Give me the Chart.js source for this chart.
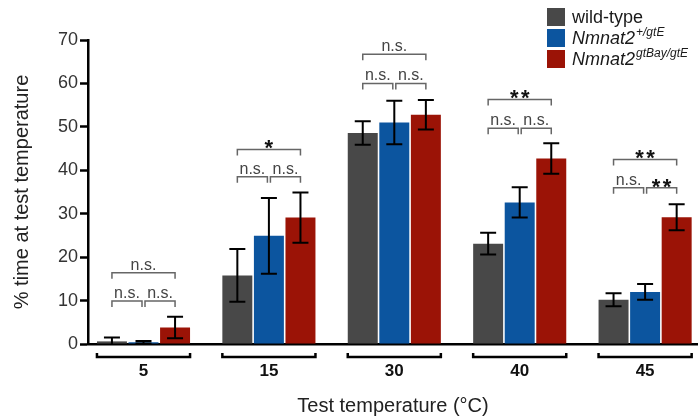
<!DOCTYPE html>
<html><head><meta charset="utf-8">
<script src="https://cdn.jsdelivr.net/npm/chart.js@4/dist/chart.umd.min.js"></script>
<style>html,body{margin:0;padding:0;background:#fff;}</style>
</head><body>
<canvas id="c" width="698" height="419"></canvas>
<script>
// ---- data ----
const categories = ['5', '15', '30', '40', '45'];
const seriesNames = ['wild-type', 'Nmnat2', 'Nmnat2'];
const seriesSup = ['', '+/gtE', 'gtBay/gtE'];
const wildType = [0.6, 15.8, 48.6, 23.1, 10.2];
const wildTypeErr = [0.9, 6.1, 2.7, 2.5, 1.5];
const hetero = [0.4, 24.9, 51.0, 32.6, 12.0];
const heteroErr = [0.3, 8.7, 5.0, 3.5, 1.8];
const homo = [3.8, 29.1, 52.8, 42.7, 29.2];
const homoErr = [2.5, 5.8, 3.4, 3.5, 3.0];
const sigLowY = [9.9, 38.5, 60.0, 49.7, 36.0];
const sigHighY = [16.4, 44.8, 66.7, 56.3, 42.5];
const sigLeft = ['n.s.', 'n.s.', 'n.s.', 'n.s.', 'n.s.'];
const sigRight = ['n.s.', 'n.s.', 'n.s.', 'n.s.', '**'];
const sigTop = ['n.s.', '*', 'n.s.', '**', '**'];
const yTicks = [0, 10, 20, 30, 40, 50, 60, 70];
const colors = ['#484848', '#0c559f', '#9b1306'];

const values = [wildType, hetero, homo];
const errors = [wildTypeErr, heteroErr, homoErr];

const FONT = '"Liberation Sans", Arial, Helvetica, sans-serif';

const decorPlugin = {
  id: 'decor',
  afterDatasetsDraw(chart) {
    const ctx = chart.ctx;
    const ys = chart.scales.y;
    const metas = [0, 1, 2].map(i => chart.getDatasetMeta(i));
    ctx.save();
    // error bars
    ctx.strokeStyle = '#000';
    ctx.lineWidth = 2;
    metas.forEach((meta, d) => {
      meta.data.forEach((el, i) => {
        const v = values[d][i], e = errors[d][i];
        const top = ys.getPixelForValue(v + e);
        const bot = ys.getPixelForValue(Math.max(0, v - e));
        const x = el.x, cw = 8;
        ctx.beginPath();
        ctx.moveTo(x, top); ctx.lineTo(x, bot);
        ctx.moveTo(x - cw, top); ctx.lineTo(x + cw, top);
        if (v - e > 0) { ctx.moveTo(x - cw, bot); ctx.lineTo(x + cw, bot); }
        ctx.stroke();
      });
    });
    // significance brackets
    const drawBracket = (x1, x2, y, label) => {
      ctx.strokeStyle = '#666';
      ctx.lineWidth = 1.5;
      ctx.beginPath();
      ctx.moveTo(x1, y + 6); ctx.lineTo(x1, y); ctx.lineTo(x2, y); ctx.lineTo(x2, y + 6);
      ctx.stroke();
      ctx.textAlign = 'center';
      ctx.textBaseline = 'alphabetic';
      const cx = (x1 + x2) / 2;
      if (label.indexOf('*') >= 0) {
        ctx.fillStyle = '#111';
        ctx.font = 'bold 22px ' + FONT;
        const chars = label.split('');
        const step = 11;
        const start = cx - (chars.length - 1) * step / 2;
        chars.forEach((ch, k) => ctx.fillText(ch, start + k * step, y + 6));
      } else {
        ctx.fillStyle = '#444';
        ctx.font = '16px ' + FONT;
        ctx.fillText(label, cx, y - 3);
      }
    };
    categories.forEach((c, i) => {
      const xg = metas[0].data[i].x, xb = metas[1].data[i].x, xr = metas[2].data[i].x;
      const yl = ys.getPixelForValue(sigLowY[i]);
      const yh = ys.getPixelForValue(sigHighY[i]);
      drawBracket(xg, xb - 1.5, yl, sigLeft[i]);
      drawBracket(xb + 1.5, xr, yl, sigRight[i]);
      drawBracket(xg, xr, yh, sigTop[i]);
      // group bracket under axis
      const g = metas[0].data[i], r = metas[2].data[i];
      const left = g.x - g.width / 2, right = r.x + r.width / 2;
      const by = chart.chartArea.bottom + 13;
      ctx.strokeStyle = '#000';
      ctx.lineWidth = 2.5;
      ctx.beginPath();
      ctx.moveTo(left, by - 4); ctx.lineTo(left, by); ctx.lineTo(right, by); ctx.lineTo(right, by - 4);
      ctx.stroke();
    });
    // legend
    const lx = 547, rowTops = [8, 29, 50];
    seriesNames.forEach((name, d) => {
      const t = rowTops[d];
      ctx.fillStyle = colors[d];
      ctx.fillRect(lx, t, 18, 18);
      const cy = t + 10;
      ctx.fillStyle = '#1a1a1a';
      ctx.textAlign = 'left';
      ctx.textBaseline = 'middle';
      if (!seriesSup[d]) {
        ctx.font = '18px ' + FONT;
        ctx.fillText(name, lx + 25, cy);
      } else {
        ctx.font = 'italic 18px ' + FONT;
        ctx.fillText(name, lx + 25, cy);
        const w = ctx.measureText(name).width;
        ctx.font = 'italic 12px ' + FONT;
        ctx.fillText(seriesSup[d], lx + 25 + w + 1, cy - 6);
      }
    });
    ctx.restore();
  }
};

const datasets = values.map((vals, d) => ({
  label: seriesNames[d] + seriesSup[d],
  data: vals.map((v, i) => ({ x: i, y: v })),
  backgroundColor: colors[d],
  borderWidth: 0,
  categoryPercentage: 0.755,
  barPercentage: 0.95
}));

new Chart(document.getElementById('c'), {
  type: 'bar',
  data: { datasets },
  options: {
    responsive: false,
    animation: false,
    devicePixelRatio: 1,
    layout: { padding: { top: 40, right: 0, left: 0, bottom: 0 } },
    plugins: { legend: { display: false }, tooltip: { enabled: false } },
    scales: {
      x: {
        type: 'linear',
        offset: false,
        min: -0.4426,
        max: 4.4218,
        afterBuildTicks: s => { s.ticks = categories.map((c, i) => ({ value: i })); },
        afterFit: s => { s.height = 75; },
        grid: { offset: false, drawOnChartArea: false, drawTicks: false },
        border: { display: true, width: 2.5, color: '#000' },
        ticks: {
          padding: 17,
          color: '#111',
          font: { family: FONT, size: 17, weight: 'bold' },
          callback: v => categories[v]
        },
        title: {
          display: true,
          text: 'Test temperature (°C)',
          color: '#222',
          font: { family: FONT, size: 20 },
          padding: { top: 0, bottom: 1 }
        }
      },
      y: {
        min: 0,
        max: 70,
        afterBuildTicks: s => { s.ticks = yTicks.map(v => ({ value: v })); },
        afterFit: s => { s.width = 88; },
        grid: { drawOnChartArea: false, drawTicks: true, tickLength: 8, tickWidth: 2.5, tickColor: '#000' },
        border: { display: true, width: 2.5, color: '#000' },
        ticks: {
          padding: 2,
          color: '#333',
          font: { family: FONT, size: 18 }
        },
        title: {
          display: true,
          text: '% time at test temperature',
          color: '#222',
          font: { family: FONT, size: 20 },
          padding: { top: 10, bottom: 0 }
        }
      }
    }
  },
  plugins: [decorPlugin]
});
</script>
</body></html>
